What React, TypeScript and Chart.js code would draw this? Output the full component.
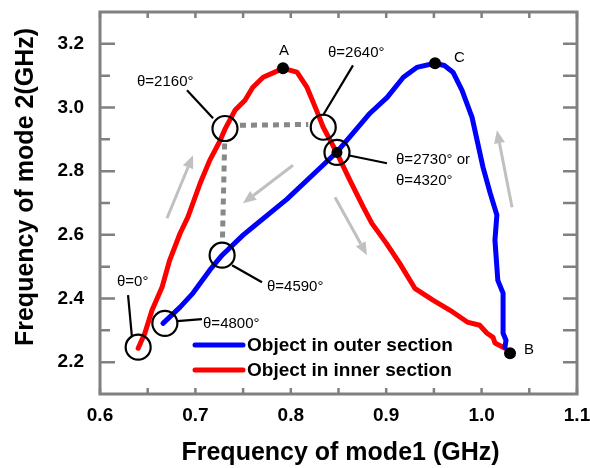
import { useEffect, useRef } from "react";
import { Chart, registerables } from "chart.js";

Chart.register(...registerables);

// Axis ticks (GHz)
const xTicks = [0.6, 0.7, 0.8, 0.9, 1.0, 1.1];
const xMinorTicks = [0.65, 0.75, 0.85, 0.95, 1.05];
const yTicks = [2.2, 2.4, 2.6, 2.8, 3.0, 3.2];
const yMinorTicks = [2.3, 2.5, 2.7, 2.9, 3.1];

// Object in outer section: mode1 / mode2 frequencies (GHz)
const outerMode1 = [
  1.0245, 1.0256, 1.0225, 1.0225, 1.017, 1.014, 1.016, 1.009, 1.0015, 0.99,
  0.9795, 0.97, 0.961, 0.951, 0.932, 0.918, 0.901, 0.883, 0.865, 0.848,
  0.8306, 0.796, 0.76, 0.75, 0.728, 0.715, 0.6975, 0.684, 0.666,
];
const outerMode2 = [
  2.247, 2.269, 2.291, 2.417, 2.457, 2.583, 2.662, 2.731, 2.812, 2.969,
  3.054, 3.111, 3.132, 3.139, 3.126, 3.095, 3.032, 2.982, 2.919, 2.859,
  2.81, 2.712, 2.624, 2.599, 2.536, 2.489, 2.417, 2.373, 2.322,
];

// Object in inner section: mode1 / mode2 frequencies (GHz)
const innerMode1 = [
  0.64, 0.647, 0.6545, 0.665, 0.673, 0.684, 0.692, 0.705, 0.715, 0.726,
  0.731, 0.7415, 0.752, 0.76, 0.771, 0.792, 0.8065, 0.817, 0.827, 0.834,
  0.848, 0.862, 0.876, 0.885, 0.9, 0.914, 0.93, 0.949, 0.967, 0.985,
  0.998, 1.0057, 1.012, 1.014, 1.0245,
];
const innerMode2 = [
  2.244, 2.291, 2.363, 2.435, 2.52, 2.605, 2.655, 2.762, 2.834, 2.897,
  2.932, 2.991, 3.023, 3.063, 3.095, 3.123, 3.111, 3.063, 2.991, 2.938,
  2.859, 2.771, 2.687, 2.636, 2.574, 2.511, 2.432, 2.395, 2.363, 2.326,
  2.316, 2.291, 2.278, 2.26, 2.244,
];

// Marked states A, B, C and the crossing of both curves
const markLabels = ["A", "B", "C"];
const markMode1 = [0.7918, 1.0298, 0.9512];
const markMode2 = [3.123, 2.228, 3.139];
const crossMode1 = 0.8484;
const crossMode2 = 2.859;

// Rotation angles circled on the curves
const circleAngles = ["0", "4800", "4590", "2160", "2640", "2730"];
const circleMode1 = [0.64, 0.668, 0.728, 0.731, 0.834, 0.8484];
const circleMode2 = [2.247, 2.322, 2.536, 2.934, 2.938, 2.859];

// Callout texts with their anchors and leader lines (axis units)
const callouts = [
  { lines: ["θ=0°"], at: [0.6178, 2.451], from: [0.6294, 2.4104], to: [0.6335, 2.2785] },
  { lines: ["θ=4800°"], at: [0.708, 2.3193], from: [0.6807, 2.3287], to: [0.7069, 2.335] },
  { lines: ["θ=4590°"], at: [0.775, 2.4355], from: [0.7384, 2.5045], to: [0.7698, 2.451] },
  { lines: ["θ=2160°"], at: [0.6388, 3.082], from: [0.6912, 3.054], to: [0.7185, 2.966] },
  { lines: ["θ=2640°"], at: [0.839, 3.173], from: [0.8652, 3.1325], to: [0.8338, 2.9755] },
  { lines: ["θ=2730° or", "θ=4320°"], at: [0.9103, 2.837], from: [0.86, 2.85], to: [0.9008, 2.8248] },
];

// Dotted links between circled angles (indices into circle arrays)
const dottedLinks = [
  [3, 4],
  [3, 2],
];

// Direction-of-travel arrows: [tail, head]
const arrows = [
  [[0.6702, 2.652], [0.6975, 2.85]],
  [[0.8023, 2.8185], [0.7499, 2.699]],
  [[0.8463, 2.718], [0.8799, 2.536]],
  [[1.0319, 2.6867], [1.0161, 2.9284]],
];

const FONT = "'Liberation Sans', Arial, Helvetica, sans-serif";
const FRAME = "#808080";

const overlay = {
  id: "overlay",
  afterDatasetsDraw(chart: any) {
    const { ctx, chartArea } = chart;
    const xs = chart.scales.x;
    const ys = chart.scales.y;
    const px = (v: number) => xs.getPixelForValue(v);
    const py = (v: number) => ys.getPixelForValue(v);
    const R = 12.5;

    ctx.save();

    // dotted links
    ctx.strokeStyle = "#888888";
    ctx.lineWidth = 5;
    ctx.setLineDash([6, 5]);
    for (const [a, b] of dottedLinks) {
      const x1 = px(circleMode1[a]);
      const y1 = py(circleMode2[a]);
      const x2 = px(circleMode1[b]);
      const y2 = py(circleMode2[b]);
      const len = Math.hypot(x2 - x1, y2 - y1);
      const ux = (x2 - x1) / len;
      const uy = (y2 - y1) / len;
      const gap = 15;
      const lift = Math.abs(uy) < 0.5 ? 3 : 0;
      ctx.beginPath();
      ctx.moveTo(x1 + ux * gap, y1 + uy * gap - lift);
      ctx.lineTo(x2 - ux * gap, y2 - uy * gap - lift);
      ctx.stroke();
    }
    ctx.setLineDash([]);

    // arrows
    ctx.strokeStyle = "#c0c0c0";
    ctx.fillStyle = "#c0c0c0";
    ctx.lineWidth = 3;
    for (const [t, h] of arrows) {
      const x1 = px(t[0]);
      const y1 = py(t[1]);
      const x2 = px(h[0]);
      const y2 = py(h[1]);
      const len = Math.hypot(x2 - x1, y2 - y1);
      const ux = (x2 - x1) / len;
      const uy = (y2 - y1) / len;
      const hl = 13;
      const hw = 5.5;
      ctx.beginPath();
      ctx.moveTo(x1, y1);
      ctx.lineTo(x2 - ux * hl, y2 - uy * hl);
      ctx.stroke();
      ctx.beginPath();
      ctx.moveTo(x2, y2);
      ctx.lineTo(x2 - ux * hl - uy * hw, y2 - uy * hl + ux * hw);
      ctx.lineTo(x2 - ux * hl + uy * hw, y2 - uy * hl - ux * hw);
      ctx.closePath();
      ctx.fill();
    }

    // circles around angles
    ctx.strokeStyle = "#000";
    ctx.lineWidth = 2.2;
    circleAngles.forEach((_, i) => {
      ctx.beginPath();
      ctx.arc(px(circleMode1[i]), py(circleMode2[i]), R, 0, Math.PI * 2);
      ctx.stroke();
    });

    // callouts
    ctx.fillStyle = "#000";
    ctx.font = `15px ${FONT}`;
    ctx.textAlign = "left";
    ctx.textBaseline = "middle";
    for (const c of callouts) {
      ctx.beginPath();
      ctx.moveTo(px(c.from[0]), py(c.from[1]));
      ctx.lineTo(px(c.to[0]), py(c.to[1]));
      ctx.stroke();
      c.lines.forEach((line, k) => {
        ctx.fillText(line, px(c.at[0]), py(c.at[1]) + k * 21);
      });
    }

    // marked points
    markLabels.forEach((lab, i) => {
      const x = px(markMode1[i]);
      const y = py(markMode2[i]);
      ctx.beginPath();
      ctx.arc(x, y, 6, 0, Math.PI * 2);
      ctx.fill();
      if (lab === "A") {
        ctx.textAlign = "center";
        ctx.fillText(lab, x + 1, y - 17);
      } else if (lab === "B") {
        ctx.textAlign = "left";
        ctx.fillText(lab, x + 14, y - 3);
      } else {
        ctx.textAlign = "left";
        ctx.fillText(lab, x + 19, y - 5);
      }
    });
    ctx.beginPath();
    ctx.arc(px(crossMode1), py(crossMode2), 5.5, 0, Math.PI * 2);
    ctx.fill();

    // legend
    const lx = chartArea.left + 95;
    const ly = chartArea.top + 333;
    chart.data.datasets.forEach((ds: any, i: number) => {
      const yy = ly + i * 25;
      ctx.strokeStyle = ds.borderColor;
      ctx.lineWidth = 5;
      ctx.lineCap = "round";
      ctx.beginPath();
      ctx.moveTo(lx, yy);
      ctx.lineTo(lx + 48, yy);
      ctx.stroke();
      ctx.fillStyle = "#000";
      ctx.font = `bold 19px ${FONT}`;
      ctx.textAlign = "left";
      ctx.textBaseline = "middle";
      ctx.fillText(ds.label, lx + 52, yy + 1);
    });

    // frame and inward ticks
    ctx.lineCap = "butt";
    ctx.strokeStyle = FRAME;
    ctx.lineWidth = 3;
    const { left, right, top, bottom } = chartArea;
    ctx.strokeRect(left, top, right - left, bottom - top);
    ctx.lineWidth = 2.5;
    ctx.beginPath();
    for (const v of [...xTicks, ...xMinorTicks]) {
      const x = px(v);
      ctx.moveTo(x, bottom);
      ctx.lineTo(x, bottom - 6);
      ctx.moveTo(x, top);
      ctx.lineTo(x, top + 6);
    }
    for (const v of yTicks) {
      const y = py(v);
      ctx.moveTo(left, y);
      ctx.lineTo(left + 15, y);
      ctx.moveTo(right, y);
      ctx.lineTo(right - 14, y);
    }
    for (const v of yMinorTicks) {
      const y = py(v);
      ctx.moveTo(left, y);
      ctx.lineTo(left + 10, y);
      ctx.moveTo(right, y);
      ctx.lineTo(right - 14, y);
    }
    ctx.stroke();

    // axis titles
    ctx.fillStyle = "#000";
    ctx.font = `bold 25px ${FONT}`;
    ctx.textAlign = "center";
    ctx.textBaseline = "alphabetic";
    ctx.fillText("Frequency of mode1 (GHz)", (left + right) / 2 + 2, 460);
    ctx.save();
    ctx.translate(33, 187);
    ctx.rotate(-Math.PI / 2);
    ctx.fillText("Frequency of mode 2(GHz)", 0, 0);
    ctx.restore();

    ctx.restore();
  },
};

export default function App() {
  const canvasRef = useRef<HTMLCanvasElement | null>(null);

  useEffect(() => {
    document.body.style.margin = "0";
    const canvas = canvasRef.current;
    if (!canvas) return;
    const tickFont = { family: FONT, size: 19, weight: "bold" as const };
    const chart = new Chart(canvas, {
      type: "scatter",
      data: {
        datasets: [
          {
            label: "Object in outer section",
            data: outerMode1.map((v, i) => ({ x: v, y: outerMode2[i] })),
            showLine: true,
            borderColor: "#0000ff",
            backgroundColor: "#0000ff",
            borderWidth: 5,
            pointRadius: 0,
            borderJoinStyle: "round",
            borderCapStyle: "round",
          },
          {
            label: "Object in inner section",
            data: innerMode1.map((v, i) => ({ x: v, y: innerMode2[i] })),
            showLine: true,
            borderColor: "#ff0000",
            backgroundColor: "#ff0000",
            borderWidth: 5,
            pointRadius: 0,
            borderJoinStyle: "round",
            borderCapStyle: "round",
          },
        ],
      },
      options: {
        responsive: false,
        animation: false,
        layout: { padding: { top: 12, right: 13, left: 0, bottom: 0 } },
        plugins: { legend: { display: false }, tooltip: { enabled: false } },
        scales: {
          x: {
            type: "linear",
            min: 0.6,
            max: 1.1,
            afterBuildTicks: (s: any) => {
              s.ticks = xTicks.map((v) => ({ value: v }));
            },
            afterFit: (s: any) => {
              s.height = 74;
              s.paddingLeft = 0;
              s.paddingRight = 0;
            },
            grid: { display: false, drawTicks: false },
            border: { display: false },
            ticks: {
              font: tickFont,
              color: "#000",
              padding: 10,
              maxRotation: 0,
              autoSkip: false,
              callback: (v: any) => Number(v).toFixed(1),
            },
          },
          y: {
            type: "linear",
            min: 2.1,
            max: 3.3,
            afterBuildTicks: (s: any) => {
              s.ticks = yTicks.map((v) => ({ value: v }));
            },
            afterFit: (s: any) => {
              s.width = 100;
              s.paddingTop = 0;
              s.paddingBottom = 0;
            },
            grid: { display: false, drawTicks: false },
            border: { display: false },
            ticks: {
              font: tickFont,
              color: "#000",
              padding: 16,
              autoSkip: false,
              callback: (v: any) => Number(v).toFixed(1),
            },
          },
        },
      },
      plugins: [overlay],
    });
    return () => chart.destroy();
  }, []);

  return (
    <div style={{ position: "absolute", left: 0, top: 0, width: 590, height: 468, background: "#fff" }}>
      <canvas ref={canvasRef} width={590} height={468} />
    </div>
  );
}
